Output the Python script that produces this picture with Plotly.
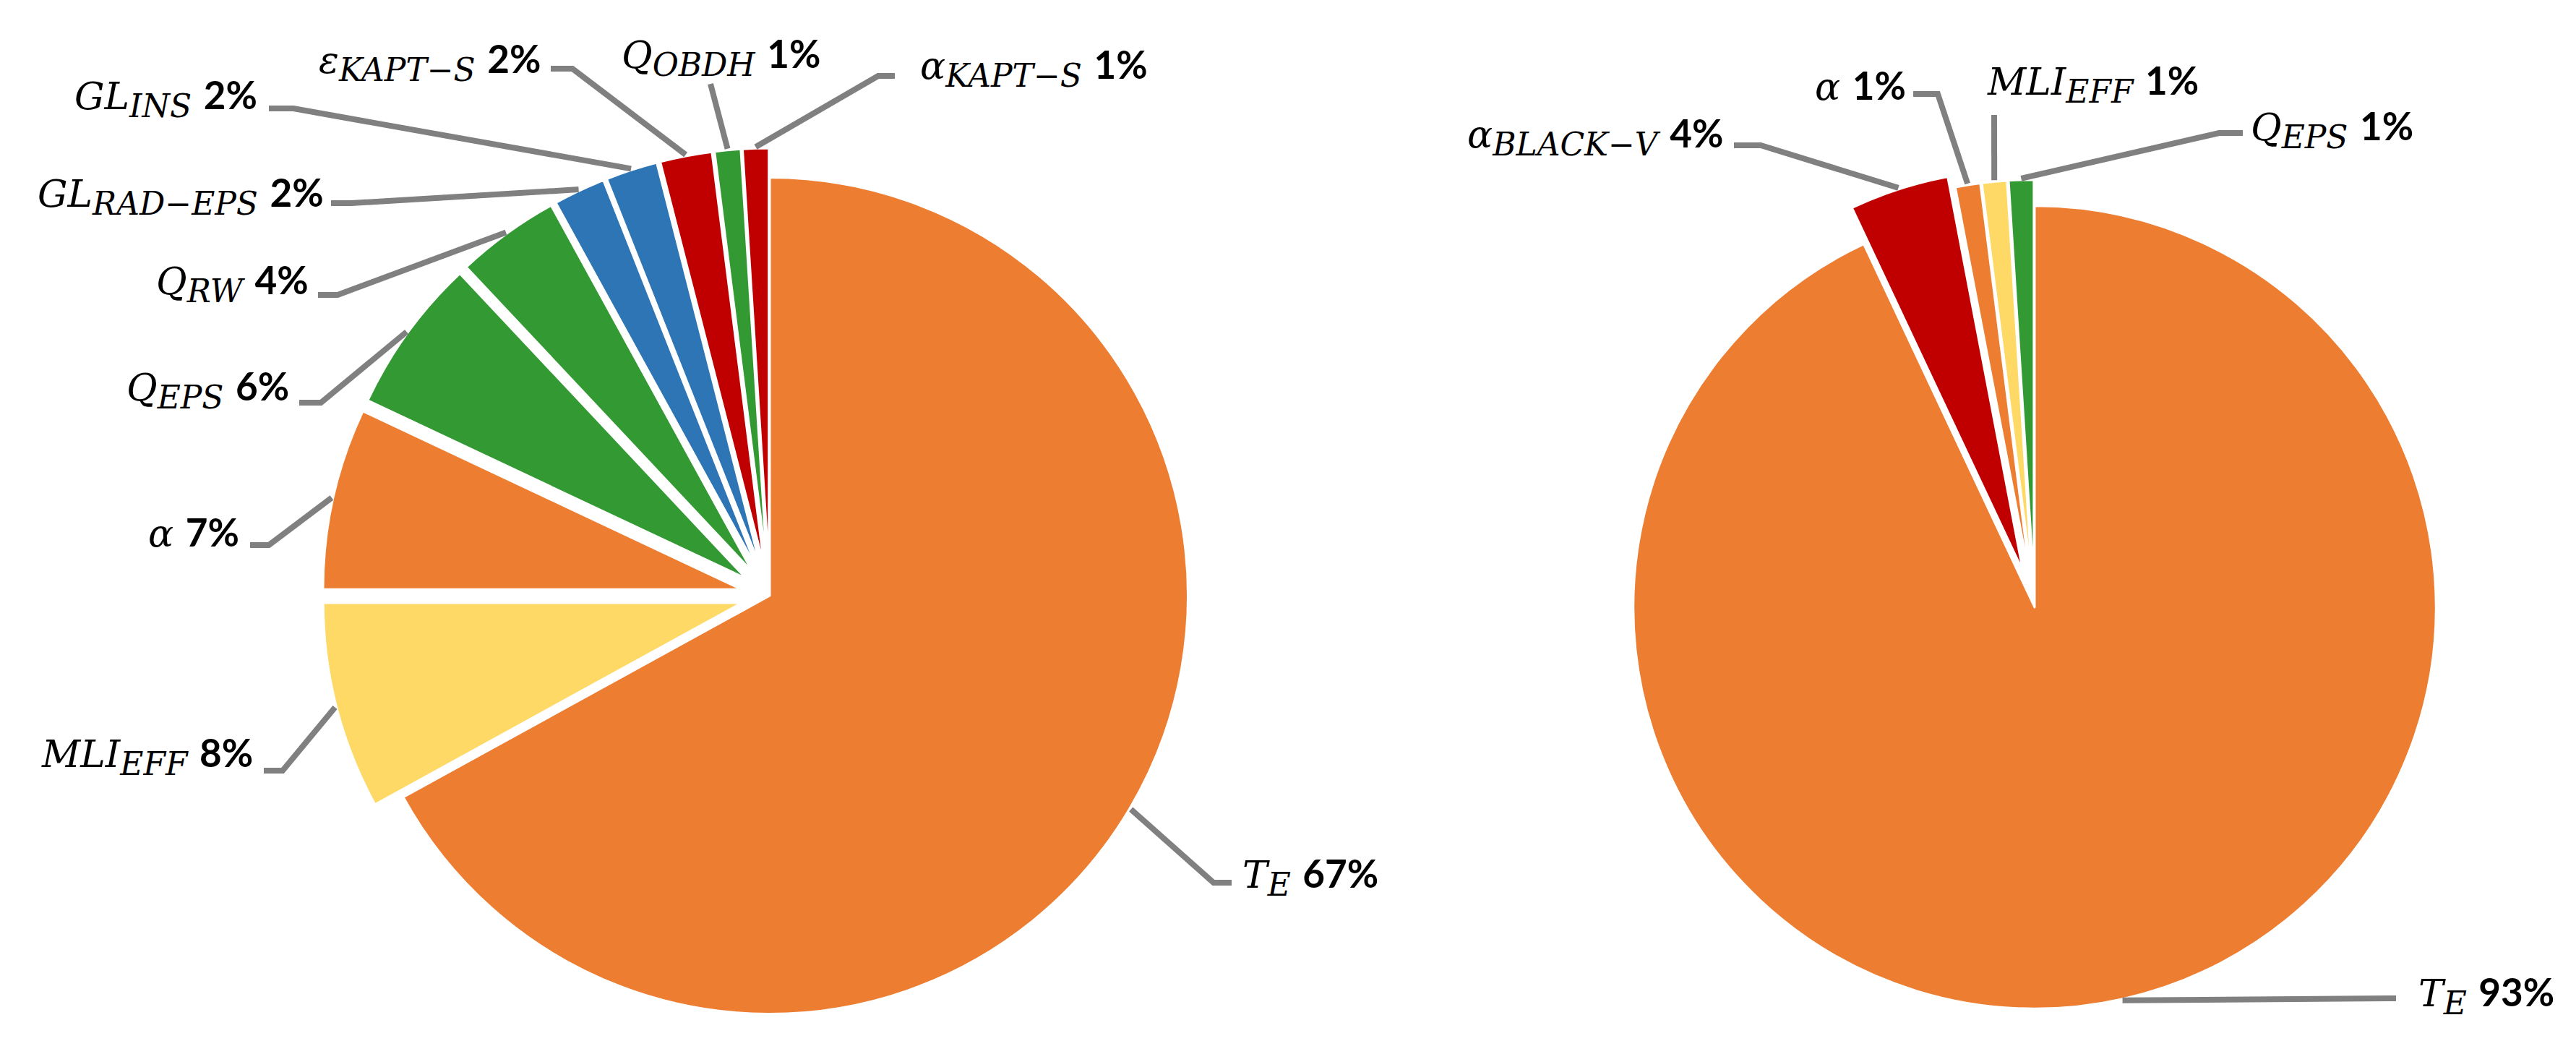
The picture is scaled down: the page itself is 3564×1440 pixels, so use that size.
import math
import plotly.graph_objects as go

W, H = 3564, 1440

# ---- data ----
left_symbols = ["T", "MLI", "α", "Q", "Q", "GL", "GL", "ε", "Q", "α"]
left_subs = ["E", "EFF", "", "EPS", "RW", "RAD−EPS", "INS", "KAPT−S", "OBDH", "KAPT−S"]
left_values = [67, 8, 7, 6, 4, 2, 2, 2, 1, 1]
left_colors = ["#ED7D31", "#FFD966", "#ED7D31", "#339933", "#339933",
               "#2E75B6", "#2E75B6", "#C00000", "#339933", "#C00000"]
left_pull = [0, 0.07, 0.07, 0.07, 0.07, 0.07, 0.07, 0.07, 0.07, 0.07]

right_symbols = ["T", "α", "α", "MLI", "Q"]
right_subs = ["E", "BLACK−V", "", "EFF", "EPS"]
right_values = [93, 4, 1, 1, 1]
right_colors = ["#ED7D31", "#C00000", "#ED7D31", "#FFD966", "#339933"]
right_pull = [0, 0.095, 0.065, 0.065, 0.065]

# ---- layout: pie centre / half box (px), label boxes and leader stubs (px) ----
left_box = dict(cx=1057, cy=816, half=619)
right_box = dict(cx=2807, cy=832, half=608)

# (text x, text y, xanchor, elbow point, stub end)
left_label_pos = [
    (1709, 1204, "left", (1671, 1213), (1696, 1213)),
    (344, 1037, "right", (383, 1058), (357, 1058)),
    (325, 728, "right", (364, 746), (338, 746)),
    (394, 530, "right", (436, 549), (406, 549)),
    (421, 383, "right", (459, 400), (432, 400)),
    (442, 262, "right", (478, 273), (450, 273)),
    (350, 127, "right", (398, 142), (364, 142)),
    (742, 77, "right", (784, 87), (754, 87)),
    (850, 70, "left", (975, 108), (975, 108)),
    (1263, 85, "left", (1207, 97), (1230, 97)),
]
right_label_pos = [
    (3336, 1368, "left", (3307, 1373), (3307, 1373)),
    (2378, 180, "right", (2428, 193), (2391, 193)),
    (2631, 110, "right", (2673, 122), (2639, 122)),
    (2739, 108, "left", (2751, 151), (2751, 151)),
    (3104, 170, "left", (3062, 176), (3095, 176)),
]

SERIF = "DejaVu Serif"
SANS = "Lato"
LINE = "#808080"


def px(x, y):
    return x / W, 1 - y / H


def label_html(sym, sub, val):
    txt = f"<i>{sym}</i>"
    if sub:
        txt += f"<sub><span style='font-size:44px'><i>{sub}</i></span></sub>"
    txt += f" <span style='font-family:{SANS};font-weight:bold;font-size:53px'>{val}%</span>"
    return txt


fig = go.Figure()
shapes = []
annotations = []

for symbols, subs, values, colors, pull, box, pos in [
    (left_symbols, left_subs, left_values, left_colors, left_pull, left_box, left_label_pos),
    (right_symbols, right_subs, right_values, right_colors, right_pull, right_box, right_label_pos),
]:
    cx, cy, half = box["cx"], box["cy"], box["half"]
    fig.add_trace(go.Pie(
        labels=[f"{s}_{b}" if b else s for s, b in zip(symbols, subs)],
        values=values,
        marker=dict(colors=colors, line=dict(color="white", width=3)),
        pull=pull,
        sort=False,
        direction="clockwise",
        rotation=0,
        textinfo="none",
        hoverinfo="label+percent",
        domain=dict(x=[(cx - half) / W, (cx + half) / W],
                    y=[(H - cy - half) / H, (H - cy + half) / H]),
    ))

    # leader lines start at the middle of each slice's outer arc
    r = half / (1 + max(pull))
    total = sum(values)
    cum = 0
    for i, v in enumerate(values):
        theta = 2 * math.pi * (cum + v / 2) / total
        cum += v
        rr = r * (1 + pull[i]) + 2
        ax, ay = cx + rr * math.sin(theta), cy - rr * math.cos(theta)
        tx, ty, anchor, elbow, stub = pos[i]
        p0, p1, p2 = px(ax, ay), px(*elbow), px(*stub)
        shapes.append(dict(
            type="path", xref="paper", yref="paper",
            path=f"M {p0[0]},{p0[1]} L {p1[0]},{p1[1]} L {p2[0]},{p2[1]}",
            line=dict(color=LINE, width=8),
        ))
        ux, uy = px(tx, ty)
        annotations.append(dict(
            x=ux, y=uy, xref="paper", yref="paper",
            xanchor=anchor, yanchor="middle", showarrow=False,
            text=label_html(symbols[i], subs[i], v),
            font=dict(family=SERIF, size=52, color="black"),
        ))

fig.update_layout(
    width=W, height=H,
    margin=dict(l=0, r=0, t=0, b=0),
    paper_bgcolor="white",
    plot_bgcolor="white",
    showlegend=False,
    shapes=shapes,
    annotations=annotations,
)

fig.write_html("out.html")
